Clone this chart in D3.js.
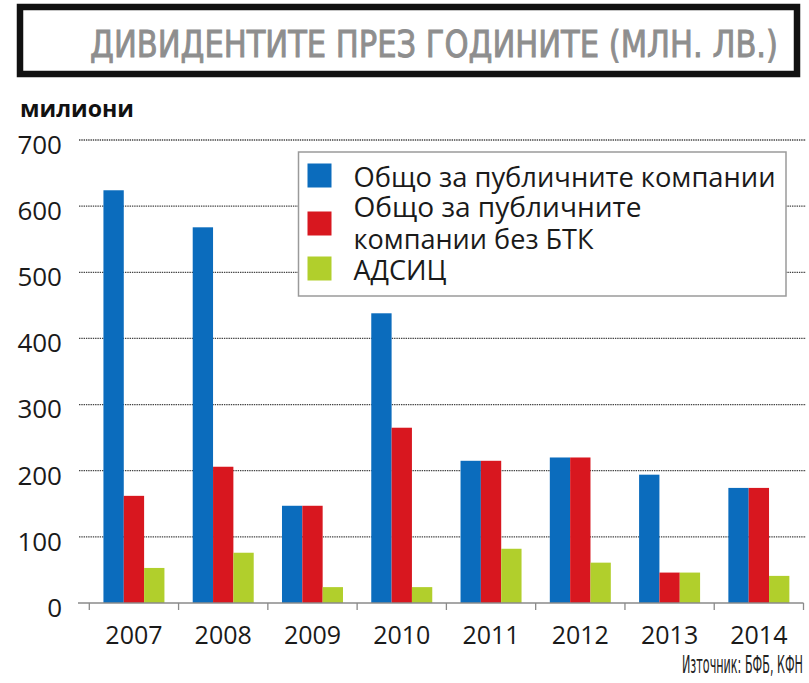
<!DOCTYPE html>
<html>
<head>
<meta charset="utf-8">
<script src="https://cdn.jsdelivr.net/npm/d3@7"></script>
<style>
  html, body { margin: 0; padding: 0; background: #fff; }
  svg { display: block; }
</style>
</head>
<body>
<svg id="chart" width="809" height="683"></svg>
<script>
// Dividends paid per year, million leva
const years = ["2007", "2008", "2009", "2010", "2011", "2012", "2013", "2014"];
const seriesNames = [
  "Общо за публичните компании",
  "Общо за публичните компании без БТК",
  "АДСИЦ"
];
const totalAll = [624, 568, 147, 438, 215, 220, 194, 174];
const totalWithoutBTK = [162, 206, 147, 265, 215, 220, 46, 174];
const reits = [53, 76, 24, 24, 82, 61, 46, 41];
const yTicks = [0, 100, 200, 300, 400, 500, 600, 700];
const colors = ["#0b6cbd", "#d8171f", "#b1cf2c"];

const series = [totalAll, totalWithoutBTK, reits];
const rows = years.map((y, i) => ({ year: y, values: series.map(s => s[i]) }));

const svg = d3.select("#chart");

// Title box
svg.append("rect")
  .attr("x", 20).attr("y", 7)
  .attr("width", 777).attr("height", 67)
  .attr("fill", "#fff")
  .attr("stroke", "#111").attr("stroke-width", 6.5);

svg.append("text")
  .attr("x", 90).attr("y", 57)
  .attr("font-family", "'Liberation Sans Narrow', 'DejaVu Sans Condensed', sans-serif")
  .attr("font-size", 38)
  .attr("fill", "#8e8e8e")
  .attr("stroke", "#8e8e8e")
  .attr("stroke-width", 0.9)
  .attr("textLength", 688)
  .attr("lengthAdjust", "spacingAndGlyphs")
  .text("ДИВИДЕНТИТЕ ПРЕЗ ГОДИНИТЕ (МЛН. ЛВ.)");

svg.append("text")
  .attr("x", 20).attr("y", 117)
  .attr("font-family", "'Open Sans', sans-serif")
  .attr("font-weight", 700)
  .attr("font-size", 23)
  .attr("fill", "#111")
  .attr("textLength", 114)
  .attr("lengthAdjust", "spacingAndGlyphs")
  .text("милиони");

// Scales
const x = d3.scaleBand().domain(years).range([89.3, 803.5]).padding(0);
const groupW = 61;
const xs = d3.scaleBand().domain(d3.range(seriesNames.length))
  .range([(x.bandwidth() - groupW) / 2, (x.bandwidth() + groupW) / 2]).padding(0);
const y = d3.scaleLinear().domain([0, 700]).range([603, 140]);

// Dotted grid lines
svg.append("g")
  .selectAll("line")
  .data(yTicks.filter(d => d > 0))
  .join("line")
  .attr("x1", 79).attr("x2", 806)
  .attr("y1", d => y(d)).attr("y2", d => y(d))
  .attr("stroke", "#444")
  .attr("stroke-width", 1.3)
  .attr("stroke-dasharray", "1.4,0.9");

// Y axis labels
const yAxis = d3.axisLeft(y).tickValues(yTicks).tickSize(0).tickPadding(0);
const gy = svg.append("g").attr("transform", "translate(62,5)").call(yAxis);
gy.select(".domain").remove();
gy.selectAll("text")
  .attr("font-family", "'Open Sans', sans-serif")
  .attr("font-size", 26)
  .attr("fill", "#1a1a1a");

// Bars
const groups = svg.append("g")
  .selectAll("g")
  .data(rows)
  .join("g")
  .attr("transform", d => `translate(${x(d.year)},0)`);

groups.selectAll("rect")
  .data(d => d.values.map((v, k) => ({ k, v })))
  .join("rect")
  .attr("x", d => xs(d.k))
  .attr("width", xs.bandwidth())
  .attr("y", d => y(d.v))
  .attr("height", d => y(0) - y(d.v))
  .attr("fill", d => colors[d.k]);

// X axis with ticks between categories
const gx = svg.append("g").attr("transform", `translate(0,${y(0)})`);
gx.append("line")
  .attr("x1", 78).attr("x2", 803.5)
  .attr("stroke", "#8a8a8a").attr("stroke-width", 1.5);
gx.selectAll("line.tick")
  .data(years.map(yr => x(yr)).concat([x.range()[1]]))
  .join("line")
  .attr("class", "tick")
  .attr("x1", d => d).attr("x2", d => d)
  .attr("y1", 0).attr("y2", 7)
  .attr("stroke", "#8a8a8a").attr("stroke-width", 1.3);

const xAxis = d3.axisBottom(x).tickSize(0).tickPadding(0);
const gxl = svg.append("g").attr("transform", "translate(0,626)").call(xAxis);
gxl.select(".domain").remove();
gxl.selectAll("text")
  .attr("font-family", "'Open Sans', sans-serif")
  .attr("font-size", 25)
  .attr("fill", "#1a1a1a");

// Legend
const legend = svg.append("g");
legend.append("rect")
  .attr("x", 298.5).attr("y", 152)
  .attr("width", 487.5).attr("height", 144)
  .attr("fill", "#fff")
  .attr("stroke", "#9a9a9a").attr("stroke-width", 1.5);

const legendItems = [
  { lines: ["Общо за публичните компании"], swY: 163.5, base: [186.5], widths: [422] },
  { lines: ["Общо за публичните", "компании без БТК"], swY: 211.5, base: [217, 249.3], widths: [288, 240] },
  { lines: ["АДСИЦ"], swY: 256.5, base: [279.5], widths: [93] }
];
legendItems.forEach((item, k) => {
  legend.append("rect")
    .attr("x", 307.5).attr("y", item.swY)
    .attr("width", 24).attr("height", 24)
    .attr("fill", colors[k]);
  item.lines.forEach((ln, j) => {
    legend.append("text")
      .attr("x", 353.5).attr("y", item.base[j])
      .attr("font-family", "'Open Sans', sans-serif")
      .attr("font-size", 27)
      .attr("fill", "#1a1a1a")
      .attr("textLength", item.widths[j])
      .attr("lengthAdjust", "spacingAndGlyphs")
      .text(ln);
  });
});

// Source note
svg.append("text")
  .attr("x", 803).attr("y", 673)
  .attr("text-anchor", "end")
  .attr("font-family", "'Liberation Sans Narrow', 'DejaVu Sans Condensed', sans-serif")
  .attr("font-size", 25)
  .attr("fill", "#222")
  .attr("textLength", 121)
  .attr("lengthAdjust", "spacingAndGlyphs")
  .text("Източник: БФБ, КФН");
</script>
</body>
</html>
